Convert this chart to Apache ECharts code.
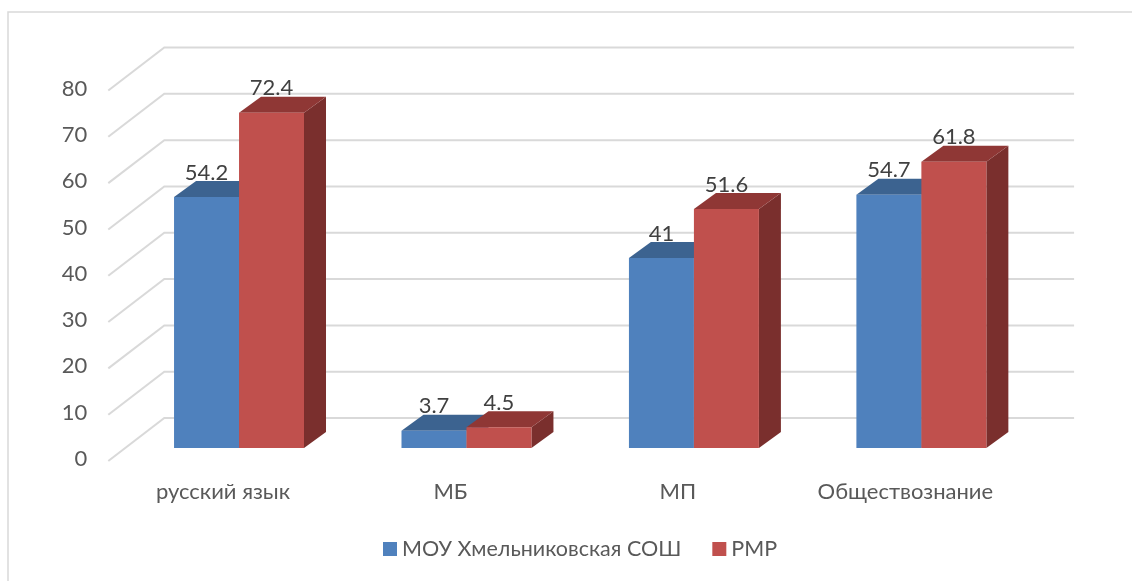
<!DOCTYPE html>
<html>
<head>
<meta charset="utf-8">
<style>
  html, body { margin: 0; padding: 0; background: #fff; }
  #chart { width: 1132px; height: 581px; }
</style>
<script src="https://cdn.jsdelivr.net/npm/echarts@6/dist/echarts.min.js"></script>
</head>
<body>
<div id="chart"></div>
<script>
var categories = ['русский язык', 'МБ', 'МП', 'Обществознание'];
var schoolValues = [54.2, 3.7, 41, 54.7];
var districtValues = [72.4, 4.5, 51.6, 61.8];
var gridTicks = [0, 10, 20, 30, 40, 50, 60, 70, 80];

var font = 'Lato, "Noto Sans", sans-serif';

// псевдо-3D: сдвиг граней столбика и стенки
var barDepthX = 22, barDepthY = 16;
var wallBack = 56, wallFront = -17;

function gridItem(params, api) {
  var cs = params.coordSys;
  var y = api.coord([0, api.value(0)])[1];
  return {
    type: 'polyline',
    shape: { points: [
      [cs.x + wallFront, y + 13],
      [cs.x + wallFront + wallBack, y - 30],
      [cs.x + cs.width + 39, y - 30]
    ] },
    style: { stroke: '#d9d9d9', lineWidth: 2, fill: null }
  };
}

function barItem(side, front, top, dark) {
  return function (params, api) {
    var p = api.coord([api.value(0), api.value(1)]);
    var base = api.coord([api.value(0), 0])[1];
    var w = api.size([1, 0])[0] * 0.2857;
    var x = side === 0 ? p[0] - w : p[0];
    var y = p[1];
    return {
      type: 'group',
      children: [
        { type: 'polygon', shape: { points: [[x + w, y], [x + w + barDepthX, y - barDepthY], [x + w + barDepthX, base - barDepthY], [x + w, base]] }, style: { fill: dark } },
        { type: 'polygon', shape: { points: [[x, y], [x + barDepthX, y - barDepthY], [x + w + barDepthX, y - barDepthY], [x + w, y]] }, style: { fill: top } },
        { type: 'rect', shape: { x: x, y: y, width: w, height: base - y }, style: { fill: front } },
        { type: 'text', z2: 10, style: { text: String(api.value(1)), x: x + w / 2, y: y - 24.5, align: 'center', verticalAlign: 'middle', font: '22px ' + font, fill: '#404040' } }
      ]
    };
  };
}

var chart = echarts.init(document.getElementById('chart'));
chart.setOption({
  animation: false,
  backgroundColor: '#fff',
  textStyle: { fontFamily: font },
  graphic: [{
    type: 'rect',
    silent: true,
    z: -1,
    shape: { x: 8, y: 12, width: 1300, height: 700 },
    style: { fill: null, stroke: '#d9d9d9', lineWidth: 1.5 }
  }],
  grid: { left: 125.3, right: 96.9, top: 77.5, bottom: 133 },
  legend: {
    left: 378, top: 533,
    itemWidth: 14, itemHeight: 14, itemGap: 31,
    icon: 'rect',
    textStyle: { fontSize: 21.5, color: '#595959', fontFamily: font },
    data: [
      { name: 'МОУ Хмельниковская СОШ', itemStyle: { color: '#4f81bd' } },
      { name: 'РМР', itemStyle: { color: '#c0504d' } }
    ]
  },
  xAxis: {
    type: 'category',
    data: categories,
    axisLine: { show: false },
    axisTick: { show: false },
    axisLabel: { margin: 33, fontSize: 22, color: '#595959', fontFamily: font, padding: [0, 32, 0, 0], interval: 0 }
  },
  yAxis: {
    type: 'value',
    min: 0, max: 80, interval: 10,
    splitLine: { show: false },
    axisLine: { show: false },
    axisTick: { show: false },
    axisLabel: { margin: 38, fontSize: 22, color: '#595959', fontFamily: font, verticalAlign: 'top' }
  },
  series: [
    { type: 'custom', silent: true, data: gridTicks.map(function (t) { return [t]; }), encode: { y: 0 }, renderItem: gridItem, z: 1, legendHoverLink: false, tooltip: { show: false } },
    { name: 'МОУ Хмельниковская СОШ', type: 'custom', z: 2, itemStyle: { color: '#4f81bd' }, data: schoolValues.map(function (v, i) { return [i, v]; }), encode: { x: 0, y: 1 }, renderItem: barItem(0, '#4f81bd', '#3c6390', '#3a5f8b') },
    { name: 'РМР', type: 'custom', z: 3, itemStyle: { color: '#c0504d' }, data: districtValues.map(function (v, i) { return [i, v]; }), encode: { x: 0, y: 1 }, renderItem: barItem(1, '#c0504d', '#8f3735', '#7a2f2d') }
  ]
});
</script>
</body>
</html>
